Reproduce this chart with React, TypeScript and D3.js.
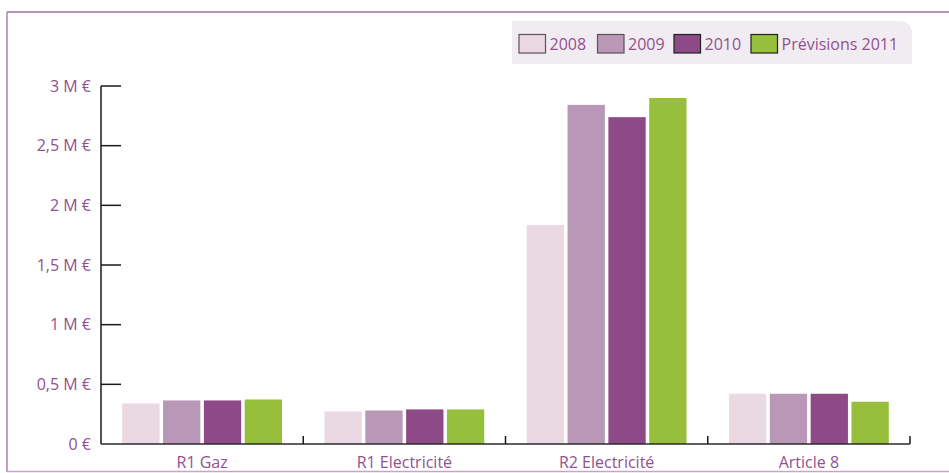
import React from "react";
import * as d3 from "d3";

const categories = ["R1 Gaz", "R1 Electricité", "R2 Electricité", "Article 8"];
const seriesNames = ["2008", "2009", "2010", "Prévisions 2011"];
const values2008 = [0.34, 0.273, 1.835, 0.421];
const values2009 = [0.365, 0.281, 2.842, 0.421];
const values2010 = [0.365, 0.29, 2.739, 0.421];
const values2011 = [0.373, 0.29, 2.9, 0.354];
const seriesValues = [values2008, values2009, values2010, values2011];
const colors = ["#ead8e3", "#b997b7", "#8e4a87", "#97bf3c"];
const yTicks = [0, 0.5, 1, 1.5, 2, 2.5, 3];
const yTickLabels = ["0 €", "0,5 M €", "1 M €", "1,5 M €", "2 M €", "2,5 M €", "3 M €"];

const W = 949;
const H = 473;
const textColor = "#93508f";
const font = "'Open Sans', sans-serif";

export default function App() {
  const x0 = d3.scaleBand<string>().domain(categories).range([101, 910]).paddingInner(0).paddingOuter(0);
  const x1 = d3
    .scaleBand<string>()
    .domain(seriesNames)
    .range([0, x0.bandwidth()])
    .paddingInner(0.086)
    .paddingOuter(0.52);
  const y = d3.scaleLinear().domain([0, 3]).range([444, 86]);

  const lx = [519, 597.5, 674, 751];
  const legendPath = `M512,21 H900 A12,12 0 0 1 912,33 V64 H512 Z`;

  return (
    <svg
      width={W}
      height={H}
      style={{ position: "absolute", left: 0, top: 0, background: "#fff" }}
      fontFamily={font}
    >
      {/* frame */}
      <line x1={7} x2={W} y1={12} y2={12} stroke="#a46ea3" strokeWidth={1.5} />
      <line x1={7} x2={7} y1={12} y2={472} stroke="#b07fb0" strokeWidth={1.5} />
      <line x1={7} x2={W} y1={471.5} y2={471.5} stroke="#c9a2c8" strokeWidth={1.5} />

      {/* legend */}
      <path d={legendPath} fill="#f1ebf2" />
      {seriesNames.map((s, i) => (
        <g key={s}>
          <rect x={lx[i]} y={34.5} width={26.5} height={18.5} fill={colors[i]} stroke={i < 2 ? "#5e4f5c" : "#222"} strokeWidth={1.2} />
          <text x={lx[i] + 30.5} y={49.5} fill={textColor} fontSize={16}>
            {s}
          </text>
        </g>
      ))}

      {/* bars */}
      {categories.map((c, ci) => (
        <g key={c} transform={`translate(${x0(c)},0)`}>
          {seriesNames.map((s, si) => (
            <rect
              key={s}
              x={x1(s)}
              width={x1.bandwidth()}
              y={y(seriesValues[si][ci])}
              height={y(0) - y(seriesValues[si][ci])}
              fill={colors[si]}
            />
          ))}
        </g>
      ))}

      {/* y axis */}
      <line x1={101} x2={101} y1={y(3)} y2={y(0)} stroke="#1a1a1a" strokeWidth={1.5} />
      {yTicks.map((t, i) => (
        <g key={t}>
          {t > 0 && <line x1={101} x2={121} y1={y(t)} y2={y(t)} stroke="#1a1a1a" strokeWidth={1.5} />}
          <text x={91} y={y(t)} dy="0.36em" textAnchor="end" fill={textColor} fontSize={16}>
            {yTickLabels[i]}
          </text>
        </g>
      ))}

      {/* x axis */}
      <line x1={101} x2={910} y1={y(0)} y2={y(0)} stroke="#2a2a2a" strokeWidth={1.5} />
      {categories.map((c) => (
        <g key={c}>
          <line
            x1={(x0(c) as number) + x0.bandwidth()}
            x2={(x0(c) as number) + x0.bandwidth()}
            y1={y(0)}
            y2={y(0) - 8}
            stroke="#1a1a1a"
            strokeWidth={1.5}
          />
          <text
            x={(x0(c) as number) + x0.bandwidth() / 2}
            y={468}
            textAnchor="middle"
            fill={textColor}
            fontSize={16}
          >
            {c}
          </text>
        </g>
      ))}
    </svg>
  );
}
